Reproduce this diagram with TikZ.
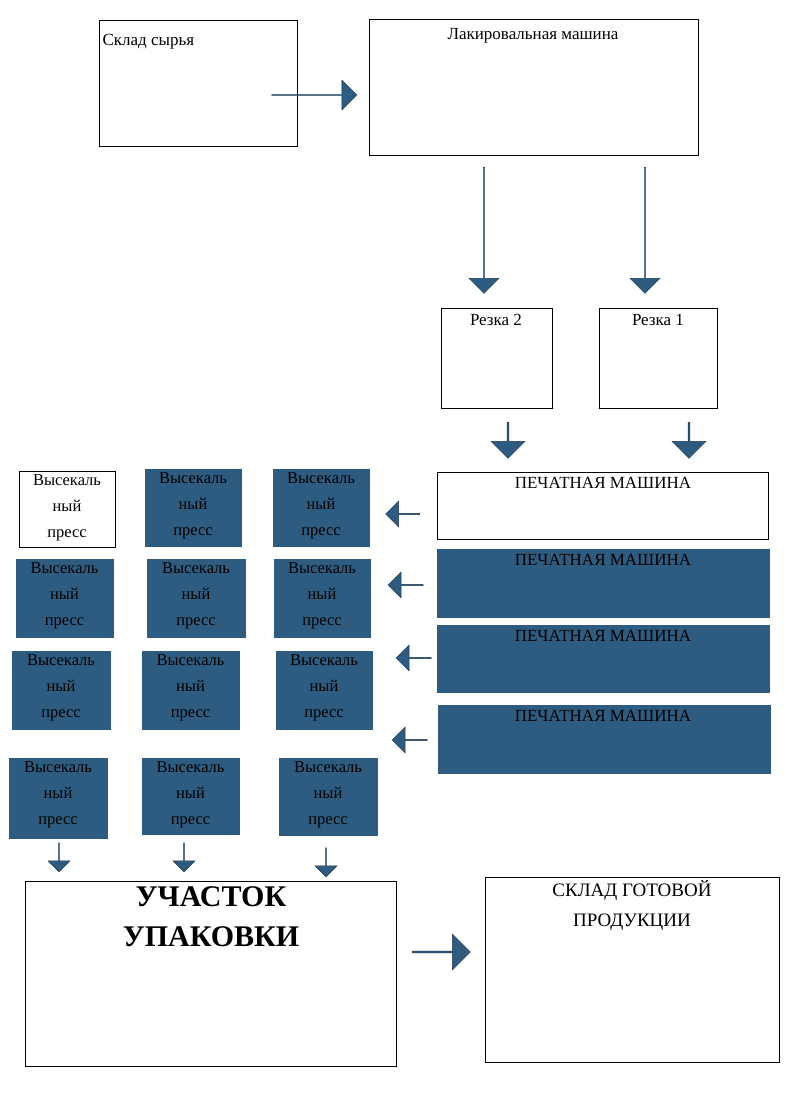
\documentclass[tikz,border=0pt]{standalone}
\usepackage{fontspec}
\setmainfont{Liberation Serif}
\usetikzlibrary{shapes.arrows,positioning}
\definecolor{steel}{HTML}{2D5C80}
\tikzset{
  box/.style={draw, line width=0.8pt},
  darkbox/.style={draw=steel, fill=steel},
  blk/.style={single arrow, draw=steel!60!black, fill=steel, inner sep=0pt,
    minimum width=#1, single arrow head extend=4pt, single arrow tip angle=90},
  txt/.style={font=\fontsize{17}{20}\selectfont, align=center, anchor=north}
}
\newcommand{\pbox}[6]{% name, style, l, t, r, b
  \draw[#2] (#3,#4) rectangle (#5,#6);
  \node[txt, font=\fontsize{16.5}{26}\selectfont] (#1) at ({(#3+#5)/2},#4) {Высекаль\\ный\\пресс};}
\newcommand{\barrow}[5]{% name, x, y, length, width, rotation
  \node[blk=#5, minimum height=#4, #1] at (#2,#3) {};}
\begin{document}
\begin{tikzpicture}[x=1pt,y=-1pt]
  \useasboundingbox (0,0) rectangle (797,1093);
  % top
  \draw[box] (99,20) rectangle (297,146);
  \node[anchor=north west, font=\fontsize{17}{20}\selectfont] (sklad) at (99,31) {Склад сырья};
  \draw[box] (369,19) rectangle (698,155);
  \node[txt] (lak) at (533,25) {Лакировальная машина};
  \barrow{}{314}{95}{85pt}{30pt}
  \barrow{rotate=-90}{484}{230}{126pt}{30pt}
  \barrow{rotate=-90}{645}{230}{126pt}{30pt}
  % cutting
  \draw[box] (441,308) rectangle (552,408);
  \node[txt] (rez2) at (496,311) {Резка 2};
  \draw[box] (599,308) rectangle (717,408);
  \node[txt] (rez1) at (658,311) {Резка 1};
  \barrow{rotate=-90}{508}{440}{36pt}{34pt}
  \barrow{rotate=-90}{689}{440}{36pt}{34pt}
  % printing
  \draw[box] (437,472) rectangle (768,539);
  \draw[darkbox] (437,549) rectangle (769,617);
  \draw[darkbox] (437,625) rectangle (769,692);
  \draw[darkbox] (438,705) rectangle (770,773);
  \foreach \t/\n in {474/p1,551/p2,627/p3,707/p4}
    \node[txt] (\n) at (603,\t) {ПЕЧАТНАЯ МАШИНА};
  \barrow{rotate=180}{403}{514}{34pt}{26pt}
  \barrow{rotate=180}{406}{585}{35pt}{26pt}
  \barrow{rotate=180}{414}{658}{35pt}{26pt}
  \barrow{rotate=180}{410}{740}{35pt}{26pt}
  % presses
  \pbox{v11}{box}{19}{471}{115}{547}
  \pbox{v12}{darkbox}{145}{469}{241}{546}
  \pbox{v13}{darkbox}{273}{469}{369}{546}
  \pbox{v21}{darkbox}{16}{559}{113}{637}
  \pbox{v22}{darkbox}{147}{559}{245}{637}
  \pbox{v23}{darkbox}{274}{559}{370}{637}
  \pbox{v31}{darkbox}{12}{651}{110}{729}
  \pbox{v32}{darkbox}{142}{651}{239}{729}
  \pbox{v33}{darkbox}{276}{651}{372}{729}
  \pbox{v41}{darkbox}{9}{758}{107}{838}
  \pbox{v42}{darkbox}{142}{758}{239}{834}
  \pbox{v43}{darkbox}{279}{758}{377}{835}
  \barrow{rotate=-90}{59}{857}{29pt}{22pt}
  \barrow{rotate=-90}{184}{857}{29pt}{22pt}
  \barrow{rotate=-90}{326}{862}{29pt}{22pt}
  % bottom
  \draw[box] (25,881) rectangle (396,1066);
  \node[txt, font=\bfseries\fontsize{30}{40}\selectfont] (up) at (211,883) {УЧАСТОК\\УПАКОВКИ};
  \barrow{}{441}{952}{58pt}{36pt}
  \draw[box] (485,877) rectangle (779,1062);
  \node[txt, font=\fontsize{19}{30}\selectfont] (gp) at (632,877) {СКЛАД ГОТОВОЙ\\ПРОДУКЦИИ};
\end{tikzpicture}
\end{document}
